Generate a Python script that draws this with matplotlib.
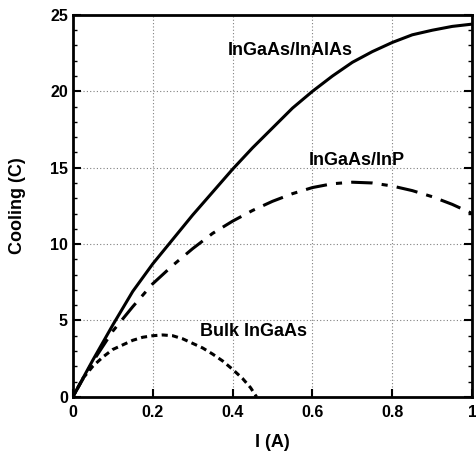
import matplotlib.pyplot as plt
from matplotlib.ticker import MultipleLocator

# data
x_alas = [0, 0.05, 0.1, 0.15, 0.2, 0.25, 0.3, 0.35, 0.4, 0.45, 0.5, 0.55,
          0.6, 0.65, 0.7, 0.75, 0.8, 0.85, 0.9, 0.95, 1.0]
y_alas = [0, 2.4, 4.7, 6.9, 8.7, 10.3, 11.9, 13.4, 14.9, 16.3, 17.6, 18.9,
          20.0, 21.0, 21.9, 22.6, 23.2, 23.7, 24.0, 24.25, 24.4]

x_inp = [0, 0.05, 0.1, 0.15, 0.2, 0.25, 0.3, 0.35, 0.4, 0.45, 0.5, 0.55,
         0.6, 0.65, 0.7, 0.75, 0.8, 0.85, 0.9, 0.95, 1.0]
y_inp = [0, 2.3, 4.3, 5.9, 7.4, 8.6, 9.7, 10.7, 11.5, 12.2, 12.8, 13.3,
         13.7, 13.95, 14.05, 14.0, 13.8, 13.5, 13.1, 12.6, 12.0]

x_bulk = [0, 0.025, 0.05, 0.075, 0.1, 0.125, 0.15, 0.175, 0.2, 0.225, 0.25,
          0.275, 0.3, 0.325, 0.35, 0.375, 0.4, 0.425, 0.445, 0.46]
y_bulk = [0, 1.2, 2.0, 2.6, 3.1, 3.4, 3.7, 3.9, 4.0, 4.05, 4.0,
          3.8, 3.5, 3.2, 2.8, 2.35, 1.8, 1.2, 0.6, 0]

plt.rcParams['font.family'] = ['Liberation Sans', 'DejaVu Sans']
plt.rcParams['font.weight'] = 'bold'

fig = plt.figure(figsize=(4.76, 4.53), dpi=100)
ax = fig.add_axes([0.153, 0.124, 0.839, 0.843])

ax.plot(x_alas, y_alas, color='k', lw=2.2, ls='-')
ax.plot(x_inp, y_inp, color='k', lw=2.2, dashes=(7, 3, 2, 3))
ax.plot(x_bulk, y_bulk, color='k', lw=2.2, dashes=(2, 1.4))

ax.text(0.545, 22.7, 'InGaAs/InAlAs', ha='center', va='center', fontsize=13, fontweight='bold')
ax.text(0.71, 15.5, 'InGaAs/InP', ha='center', va='center', fontsize=13, fontweight='bold')
ax.text(0.4525, 4.25, 'Bulk InGaAs', ha='center', va='center', fontsize=13, fontweight='bold')

ax.set_xlim(0, 1)
ax.set_ylim(0, 25)
ax.yaxis.set_major_locator(MultipleLocator(5))
ax.yaxis.set_minor_locator(MultipleLocator(1))
ax.set_xticks([0, 0.2, 0.4, 0.6, 0.8, 1])
ax.set_xticklabels(['0', '0.2', '0.4', '0.6', '0.8', '1'])
ax.tick_params(direction='in', which='both', right=True, labelsize=11.5, width=1.5)
ax.tick_params(which='major', length=6)
ax.tick_params(axis='x', pad=6)
ax.tick_params(which='minor', length=3, width=1)
for lab in ax.get_xticklabels() + ax.get_yticklabels():
    lab.set_fontweight('bold')

ax.grid(True, which='major', color='gray', ls=(0, (1, 2)), lw=0.8)
for s in ax.spines.values():
    s.set_linewidth(2)

ax.set_xlabel('I (A)', fontsize=13, fontweight='bold', labelpad=10)
ax.set_ylabel('Cooling (C)', fontsize=13, fontweight='bold', labelpad=17)

plt.savefig('out.png', dpi=100)
